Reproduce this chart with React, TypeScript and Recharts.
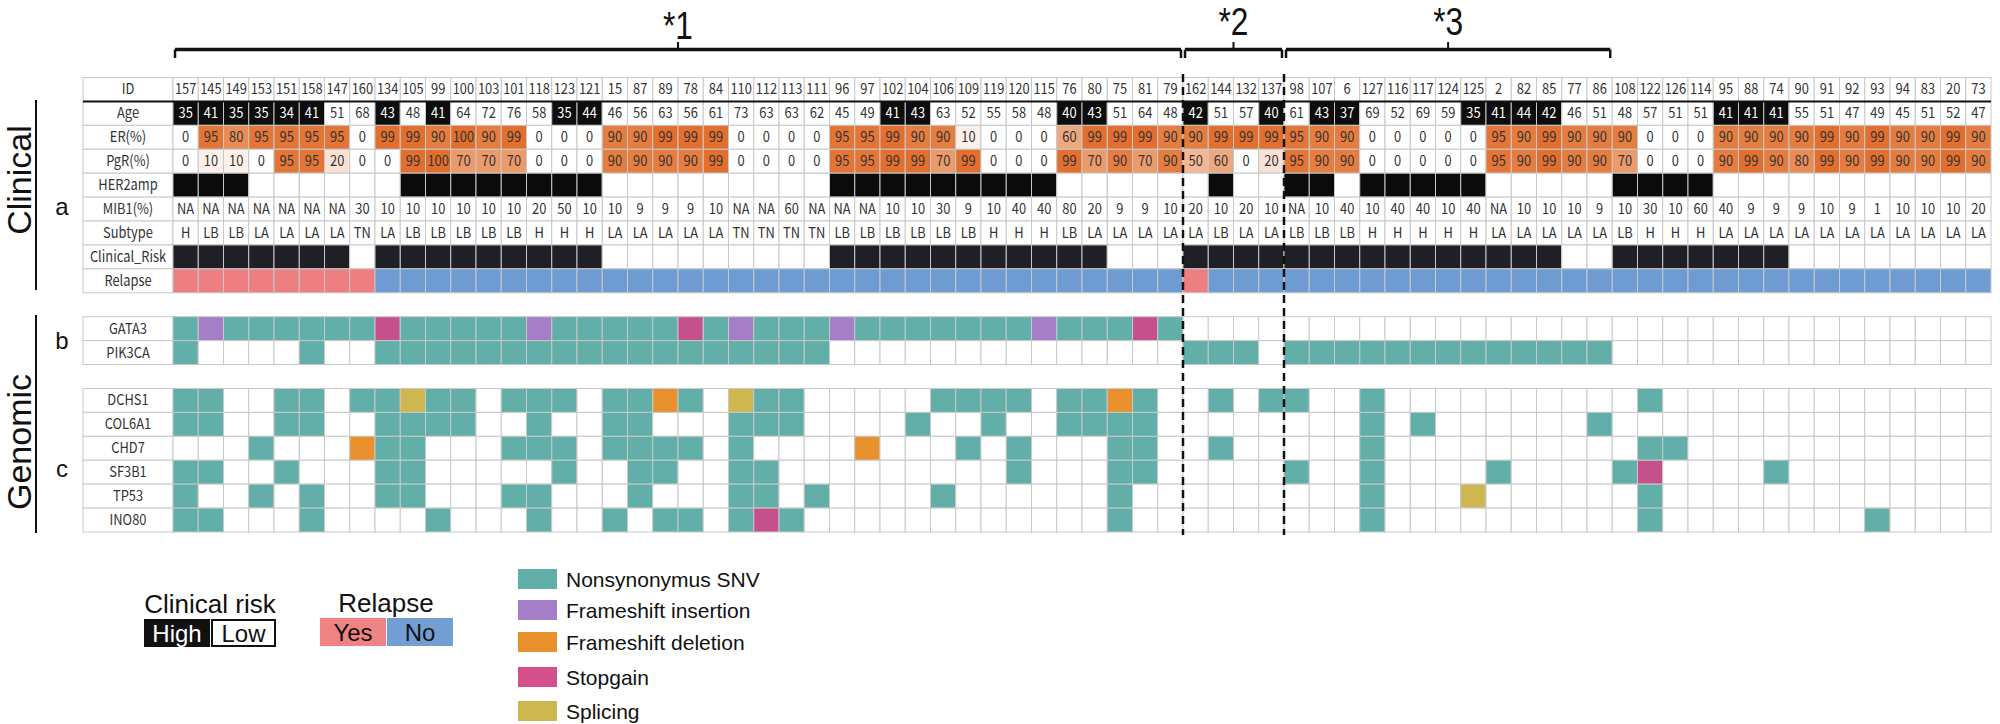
import React from "react";
import { ScatterChart, Scatter, XAxis, YAxis, ReferenceLine } from "recharts";

// ---------------- data ----------------
const IDS = [157,145,149,153,151,158,147,160,134,105,99,100,103,101,118,123,121,15,87,89,78,84,110,112,113,111,96,97,102,104,106,109,119,120,115,76,80,75,81,79,162,144,132,137,98,107,6,127,116,117,124,125,2,82,85,77,86,108,122,126,114,95,88,74,90,91,92,93,94,83,20,73];
const AGE = [35,41,35,35,34,41,51,68,43,48,41,64,72,76,58,35,44,46,56,63,56,61,73,63,63,62,45,49,41,43,63,52,55,58,48,40,43,51,64,48,42,51,57,40,61,43,37,69,52,69,59,35,41,44,42,46,51,48,57,51,51,41,41,41,55,51,47,49,45,51,52,47];
const ER = [0,95,80,95,95,95,95,0,99,99,90,100,90,99,0,0,0,90,90,99,99,99,0,0,0,0,95,95,99,90,90,10,0,0,0,60,99,99,99,90,90,99,99,99,95,90,90,0,0,0,0,0,95,90,99,90,90,90,0,0,0,90,90,90,90,99,90,99,90,90,99,90];
const PGR = [0,10,10,0,95,95,20,0,0,99,100,70,70,70,0,0,0,90,90,90,90,99,0,0,0,0,95,95,99,99,70,99,0,0,0,99,70,90,70,90,50,60,0,20,95,90,90,0,0,0,0,0,95,90,99,90,90,70,0,0,0,90,99,90,80,99,90,99,90,90,99,90];
const HER2 = [1,1,1,0,0,0,0,0,0,1, 1,1,1,1,1,1,1,0,0,0, 0,0,0,0,0,0,1,1,1,1, 1,1,1,1,1,0,0,0,0,0, 0,1,0,0,1,1,0,1,1,1, 1,1,0,0,0,0,0,1,1,1, 1,0,0,0,0,0,0,0,0,0, 0,0];
const MIB1 = ["NA","NA","NA","NA","NA","NA","NA","30","10","10","10","10","10","10","20","50","10","10","9","9","9","10","NA","NA","60","NA","NA","NA","10","10","30","9","10","40","40","80","20","9","9","10","20","10","20","10","NA","10","40","10","40","40","10","40","NA","10","10","10","9","10","30","10","60","40","9","9","9","10","9","1","10","10","10","20"];
const SUBTYPE = ["H","LB","LB","LA","LA","LA","LA","TN","LA","LB","LB","LB","LB","LB","H","H","H","LA","LA","LA","LA","LA","TN","TN","TN","TN","LB","LB","LB","LB","LB","LB","H","H","H","LB","LA","LA","LA","LA","LA","LB","LA","LA","LB","LB","LB","H","H","H","H","H","LA","LA","LA","LA","LA","LB","H","H","H","LA","LA","LA","LA","LA","LA","LA","LA","LA","LA","LA"];
const CLIN_RISK = ["H","H","H","H","H","H","H","L","H","H","H","H","H","H","H","H","H","L","L","L","L","L","L","L","L","L","H","H","H","H","H","H","H","H","H","H","H","L","L","L","H","H","H","H","H","H","H","H","H","H","H","H","H","H","H","L","L","H","H","H","H","H","H","H","L","L","L","L","L","L","L","L"];
const RELAPSE = ["Y","Y","Y","Y","Y","Y","Y","Y","N","N","N","N","N","N","N","N","N","N","N","N","N","N","N","N","N","N","N","N","N","N","N","N","N","N","N","N","N","N","N","N","Y","N","N","N","N","N","N","N","N","N","N","N","N","N","N","N","N","N","N","N","N","N","N","N","N","N","N","N","N","N","N","N"];

// mutation codes: S = nonsynonymous SNV, I = frameshift insertion, D = frameshift deletion, G = stopgain, P = splicing, . = none
const GATA3  = "SISSSSSSGS" + "SSSSISSSSS" + "GSISSSISSS" + "SSSSISSSGS" + ".........." + ".........." + ".........." + "..";
const PIK3CA = "S....S..SS" + "SSSSSSSSSS" + "SSSSSS...." + ".........." + "SSS.SSSSSS" + "SSSSSSS..." + ".........." + "..";
const DCHS1  = "SS..SS.SSP" + "SS.SSS.SSD" + "S.PSS....." + "SSSS.SSDS." + ".S.SS..S.." + "........S." + ".........." + "..";
const COL6A1 = "SS..SS..SS" + "SS..S..SS." + "..SSS....S" + "..S..SSSS." + ".......S.S" + "......S..." + ".........." + "..";
const CHD7   = "...S...DSS" + "...SSS.SSS" + "S.S....D.." + ".S.S...SS." + ".S.....S.." + "........SS" + ".........." + "..";
const SF3B1  = "SS..S...SS" + ".....S..SS" + "..SS......" + "...S...SS." + "....S..S.." + "..S....SG." + "...S......" + "..";
const TP53   = "S..S.S..SS" + "...SS...S." + "..SS.S...." + "S......S.." + ".......S.." + ".P......S." + ".........." + "..";
const INO80  = "SS...S...." + "S...S..S.S" + "S.SGS....." + ".......S.." + ".......S.." + "........S." + ".......S.." + "..";

const GENES = [
  { name: "GATA3", row: 10, muts: GATA3 },
  { name: "PIK3CA", row: 11, muts: PIK3CA },
  { name: "DCHS1", row: 13, muts: DCHS1 },
  { name: "COL6A1", row: 14, muts: COL6A1 },
  { name: "CHD7", row: 15, muts: CHD7 },
  { name: "SF3B1", row: 16, muts: SF3B1 },
  { name: "TP53", row: 17, muts: TP53 },
  { name: "INO80", row: 18, muts: INO80 },
];
const CLIN_LABELS = ["ID", "Age", "ER(%)", "PgR(%)", "HER2amp", "MIB1(%)", "Subtype", "Clinical_Risk", "Relapse"];
const BRACKETS = [
  { label: "*1", from: 0, to: 40 },
  { label: "*2", from: 40, to: 44 },
  { label: "*3", from: 44, to: 57 },
];
const GROUP_SPLITS = [40, 44];
const MUT_LEGEND = [
  { code: "S", label: "Nonsynonymus SNV" },
  { code: "I", label: "Frameshift insertion" },
  { code: "D", label: "Frameshift deletion" },
  { code: "G", label: "Stopgain" },
  { code: "P", label: "Splicing" },
];

// ---------------- layout / style ----------------
const W = 2000, H = 724;
const PLOT_LEFT = 173, PLOT_RIGHT = 1991, PLOT_TOP = 77.5, PLOT_BOTTOM = 532;
const NCOL = 72, NROW = 19;
const CW = (PLOT_RIGHT - PLOT_LEFT) / NCOL;
const RH = (PLOT_BOTTOM - PLOT_TOP) / NROW;
const LABEL_W = 90;
const LABEL_UNITS = LABEL_W / CW;
const X0 = -PLOT_LEFT / CW, X1 = (W - PLOT_LEFT) / CW;
const Y0 = -PLOT_TOP / RH, Y1 = (H - PLOT_TOP) / RH;
const pyToRow = (py: number) => (py - PLOT_TOP) / RH;
const BRACKET_LABEL_BASELINES = [39, 35, 35];
const DASH_TOP = 74, DASH_BOTTOM = 535;

const GRID = "#c8c8c8";
const TXT = "#333333";
const TABLE_FONT = "'Noto Sans CJK JP', 'Noto Sans', sans-serif";
const SANS = "'Liberation Sans', Arial, sans-serif";
const MUT_COLORS: Record<string, string> = {
  S: "#62afa9",
  I: "#a47ec6",
  D: "#e8902b",
  G: "#c5518c",
  P: "#cdb74e",
};
const MUT_LEGEND_COLORS: Record<string, string> = { ...MUT_COLORS, G: "#d4508d" };

const pctFill = (v: number) => {
  if (v <= 0) return "#ffffff";
  const t = Math.min(v, 100) / 100;
  const c1 = [226, 110, 44];
  const c = [255, 255, 255].map((a, i) => Math.round(a + (c1[i] - a) * t));
  return `rgb(${c.join(",")})`;
};

type Cell = { x: number; y: number; fill: string; text?: string; tc?: string; w?: number };

const clinicalCells: Cell[] = [];
IDS.forEach((id, i) => {
  const x = i + 0.5;
  const young = AGE[i] < 45;
  clinicalCells.push({ x, y: 0.5, fill: "#ffffff", text: String(id), tc: TXT });
  clinicalCells.push({ x, y: 1.5, fill: young ? "#0d0d0d" : "#ffffff", text: String(AGE[i]), tc: young ? "#ffffff" : TXT });
  clinicalCells.push({ x, y: 2.5, fill: pctFill(ER[i]), text: String(ER[i]), tc: TXT });
  clinicalCells.push({ x, y: 3.5, fill: pctFill(PGR[i]), text: String(PGR[i]), tc: TXT });
  clinicalCells.push({ x, y: 4.5, fill: HER2[i] ? "#0b0b0b" : "#ffffff" });
  clinicalCells.push({ x, y: 5.5, fill: "#ffffff", text: MIB1[i], tc: TXT });
  clinicalCells.push({ x, y: 6.5, fill: "#ffffff", text: SUBTYPE[i], tc: TXT });
  clinicalCells.push({ x, y: 7.5, fill: CLIN_RISK[i] === "H" ? "#1f1f26" : "#ffffff" });
  clinicalCells.push({ x, y: 8.5, fill: RELAPSE[i] === "Y" ? "#ee7f81" : "#6e9bd2" });
});

const genomicCells: Cell[] = [];
GENES.forEach((g) => {
  g.muts.split("").forEach((m, i) => {
    genomicCells.push({ x: i + 0.5, y: g.row + 0.5, fill: MUT_COLORS[m] ?? "#ffffff" });
  });
});

const labelCells: Cell[] = [
  ...CLIN_LABELS.map((l, r) => ({ x: -LABEL_UNITS / 2, y: r + 0.5, fill: "#ffffff", text: l, tc: TXT, w: LABEL_W })),
  ...GENES.map((g) => ({ x: -LABEL_UNITS / 2, y: g.row + 0.5, fill: "#ffffff", text: g.name, tc: TXT, w: LABEL_W })),
];

const bracketLabels = BRACKETS.map((b, k) => ({ x: (b.from + b.to) / 2, y: pyToRow(BRACKET_LABEL_BASELINES[k]), text: b.label }));
const dashMarks = GROUP_SPLITS.map((s) => ({ x: s, y: pyToRow((DASH_TOP + DASH_BOTTOM) / 2) }));
const idRule = [{ x: (NCOL - LABEL_UNITS) / 2, y: 1 }];

const CellShape = (p: any) => {
  const d: Cell = p.payload ?? p;
  const { cx, cy } = p;
  const w = d.w ?? CW;
  return (
    <g>
      <rect x={cx - w / 2} y={cy - RH / 2} width={w} height={RH} fill={d.fill} stroke={GRID} strokeWidth={1} />
      {d.text !== undefined && (
        <text
          transform={`translate(${cx},${cy + 5}) scale(0.86,1)`}
          textAnchor="middle"
          fontFamily={TABLE_FONT}
          fontSize={15}
          fill={d.tc}
        >
          {d.text}
        </text>
      )}
    </g>
  );
};

const DashShape = (p: any) => {
  const half = (DASH_BOTTOM - DASH_TOP) / 2;
  return <line x1={p.cx} y1={p.cy - half} x2={p.cx} y2={p.cy + half} stroke="#111" strokeWidth={2.5} strokeDasharray="8 5" />;
};

const RuleShape = (p: any) => {
  const half = ((NCOL + LABEL_UNITS) * CW) / 2;
  return <line x1={p.cx - half} y1={p.cy} x2={p.cx + half} y2={p.cy} stroke="#111" strokeWidth={2} />;
};

const BracketLabelShape = (p: any) => {
  const d = p.payload ?? p;
  return (
    <text x={p.cx} y={p.cy} textAnchor="middle" fontFamily={SANS} fontSize={38} textLength={30} lengthAdjust="spacingAndGlyphs" fill="#111">
      {d.text}
    </text>
  );
};

export default function App() {
  const yB = pyToRow(49.5), yEnd = pyToRow(58), yTick = pyToRow(42);
  const inset = 0.08;
  const bracketLines: React.ReactNode[] = [];
  BRACKETS.forEach((b, k) => {
    const a = b.from + inset, z = b.to - inset, m = (b.from + b.to) / 2;
    bracketLines.push(
      <ReferenceLine key={`bh${k}`} segment={[{ x: a, y: yB }, { x: z, y: yB }]} stroke="#111" strokeWidth={3.5} />,
      <ReferenceLine key={`bl${k}`} segment={[{ x: a, y: yB }, { x: a, y: yEnd }]} stroke="#111" strokeWidth={2.5} />,
      <ReferenceLine key={`br${k}`} segment={[{ x: z, y: yB }, { x: z, y: yEnd }]} stroke="#111" strokeWidth={2.5} />,
      <ReferenceLine key={`bm${k}`} segment={[{ x: m, y: yB }, { x: m, y: yTick }]} stroke="#111" strokeWidth={2} />
    );
  });

  return (
    <div style={{ position: "absolute", left: 0, top: 0, width: W, height: H, background: "#fff" }}>
      <ScatterChart width={W} height={H} margin={{ top: 0, right: 0, bottom: 0, left: 0 }}>
        <XAxis type="number" dataKey="x" domain={[X0, X1]} allowDataOverflow hide />
        <YAxis type="number" dataKey="y" domain={[Y0, Y1]} allowDataOverflow reversed hide />
        {bracketLines}
        <Scatter data={labelCells} shape={CellShape} isAnimationActive={false} />
        <Scatter data={clinicalCells} shape={CellShape} isAnimationActive={false} />
        <Scatter data={genomicCells} shape={CellShape} isAnimationActive={false} />
        <Scatter data={idRule} shape={RuleShape} isAnimationActive={false} />
        <Scatter data={dashMarks} shape={DashShape} isAnimationActive={false} />
        <Scatter data={bracketLabels} shape={BracketLabelShape} isAnimationActive={false} />
      </ScatterChart>

      <svg width={W} height={H} style={{ position: "absolute", left: 0, top: 0, pointerEvents: "none" }}>
        {/* side titles */}
        <line x1={36} y1={100} x2={36} y2={290} stroke="#111" strokeWidth={2} />
        <line x1={36} y1={315} x2={36} y2={533} stroke="#111" strokeWidth={2} />
        <text transform="translate(31,180) rotate(-90)" textAnchor="middle" fontFamily={SANS} fontSize={34} fill="#111">Clinical</text>
        <text transform="translate(31,442) rotate(-90)" textAnchor="middle" fontFamily={SANS} fontSize={34} fill="#111">Genomic</text>
        <text x={62} y={215} textAnchor="middle" fontFamily={SANS} fontSize={24} fill="#111">a</text>
        <text x={62} y={349} textAnchor="middle" fontFamily={SANS} fontSize={24} fill="#111">b</text>
        <text x={62} y={477} textAnchor="middle" fontFamily={SANS} fontSize={24} fill="#111">c</text>

        {/* clinical risk legend */}
        <text x={210} y={613} textAnchor="middle" fontFamily={SANS} fontSize={26} fill="#111">Clinical risk</text>
        <rect x={144} y={619} width={66} height={28} fill="#111" />
        <text x={177} y={642} textAnchor="middle" fontFamily={SANS} fontSize={24} fill="#fff">High</text>
        <rect x={212} y={620} width={63} height={26} fill="#fff" stroke="#111" strokeWidth={2} />
        <text x={243.5} y={642} textAnchor="middle" fontFamily={SANS} fontSize={24} fill="#111">Low</text>

        {/* relapse legend */}
        <text x={386} y={612} textAnchor="middle" fontFamily={SANS} fontSize={26} fill="#111">Relapse</text>
        <rect x={320} y={618} width={66} height={28} fill="#ef8282" />
        <text x={353} y={641} textAnchor="middle" fontFamily={SANS} fontSize={24} fill="#111">Yes</text>
        <rect x={387} y={618} width={66} height={28} fill="#729ed4" />
        <text x={420} y={641} textAnchor="middle" fontFamily={SANS} fontSize={24} fill="#111">No</text>

        {/* mutation legend */}
        {MUT_LEGEND.map((m, i) => {
          const cy = [579, 610, 642, 677, 711][i];
          return (
            <g key={m.code}>
              <rect x={518} y={cy - 10} width={39} height={20} fill={MUT_LEGEND_COLORS[m.code]} />
              <text x={566} y={cy + 7.5} fontFamily={SANS} fontSize={21} fill="#111">{m.label}</text>
            </g>
          );
        })}
      </svg>
    </div>
  );
}
